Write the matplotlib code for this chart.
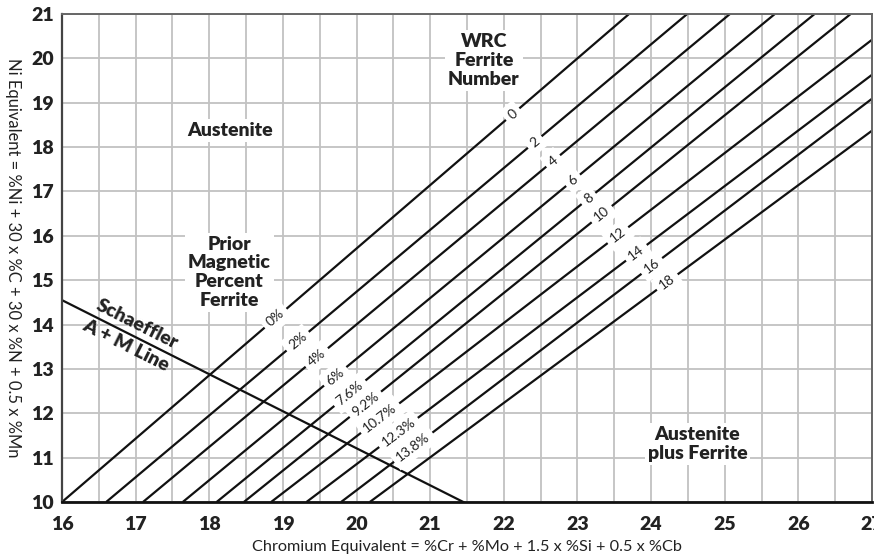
import numpy as np
import matplotlib
matplotlib.use('Agg')
import matplotlib.pyplot as plt
from matplotlib.patches import Rectangle

plt.rcParams['font.family'] = ['Lato', 'DejaVu Sans']

# iso-ferrite lines: Cr eq where each line meets Ni eq = 10, and where it leaves the chart
cr_start = [16.00, 16.60, 17.10, 17.64, 18.10, 18.47, 18.84, 19.32, 19.79, 20.18]
cr_end = [23.70, 24.49, 25.07, 25.68, 26.22, 26.71, 27.0, 27.0, 27.0, 27.0]
ni_end = [21.0, 21.0, 21.0, 21.0, 21.0, 21.0, 20.42, 19.63, 19.09, 18.37]

fn_labels = ['0', '2', '4', '6', '8', '10', '12', '14', '16', '18']
fn_label_cr = [22.12, 22.42, 22.67, 22.94, 23.15, 23.33, 23.55, 23.80, 24.01, 24.22]
pct_labels = ['0%', '2%', '4%', '6%', '7.6%', '9.2%', '10.7%', '12.3%', '13.8%']
pct_label_cr = [18.90, 19.20, 19.46, 19.71, 19.91, 20.12, 20.32, 20.57, 20.77]

# Schaeffler A + M line
sch_cr = [16.0, 21.45]
sch_ni = [14.55, 10.0]

xticks = [16, 17, 18, 19, 20, 21, 22, 23, 24, 25, 26, 27]
yticks = [10, 11, 12, 13, 14, 15, 16, 17, 18, 19, 20, 21]

fig = plt.figure(figsize=(8.88, 5.60), dpi=100)
ax = fig.add_axes([62/888, 1-502/560, (872-62)/888, (502-14)/560])
ax.set_xlim(16, 27)
ax.set_ylim(10, 21)

ax.set_xticks(xticks)
ax.set_xticks(np.arange(16.5, 27, 1.0), minor=True)
ax.set_yticks(yticks)
ax.grid(True, which='both', axis='x', color='#c2c2c2', lw=1.3, zorder=0)
ax.grid(True, which='major', axis='y', color='#c2c2c2', lw=1.3, zorder=0)
ax.set_axisbelow(True)
ax.tick_params(which='both', length=0)
ax.tick_params(axis='x', pad=10)
ax.tick_params(axis='y', pad=6)
for lab in ax.get_xticklabels() + ax.get_yticklabels():
    lab.set_fontweight('heavy')
    lab.set_fontsize(14)
    lab.set_color('#222222')

for s in ['top', 'right']:
    ax.spines[s].set_color('#666666')
    ax.spines[s].set_linewidth(1.4)
ax.spines['left'].set_color('#444444')
ax.spines['left'].set_linewidth(1.6)
ax.spines['bottom'].set_color('#111111')
ax.spines['bottom'].set_linewidth(2)

ax.set_xlabel('Chromium Equivalent = %Cr + %Mo + 1.5 x %Si + 0.5 x %Cb', fontsize=11.7, labelpad=5, color='#222222')
# y label reads top to bottom in the source
ax.set_ylabel('Ni Equivalent = %Ni + 30 x %C + 30 x %N + 0.5 x %Mn', fontsize=11.9,
              rotation=270, va='center', ha='center', color='#222222')
ax.yaxis.set_label_coords(-0.061, 0.5)

box = dict(boxstyle='square,pad=0.35', fc='white', ec='none')


def line_y(i, x):
    return 10 + (x - cr_start[i]) * (ni_end[i] - 10) / (cr_end[i] - cr_start[i])


def screen_angle(x0, y0, x1, y1):
    p0 = ax.transData.transform((x0, y0))
    p1 = ax.transData.transform((x1, y1))
    return np.degrees(np.arctan2(p1[1] - p0[1], p1[0] - p0[0]))


for i in range(len(cr_start)):
    ax.plot([cr_start[i], cr_end[i]], [10, ni_end[i]], color='#111111', lw=1.6, zorder=2,
            solid_capstyle='butt')
    ang = screen_angle(cr_start[i], 10, cr_end[i], ni_end[i])
    ax.text(fn_label_cr[i], line_y(i, fn_label_cr[i]), fn_labels[i], rotation=ang,
            rotation_mode='anchor', ha='center', va='center', fontsize=10,
            color='#222222', bbox=box, zorder=4)
    if i < len(pct_labels):
        ax.text(pct_label_cr[i], line_y(i, pct_label_cr[i]), pct_labels[i], rotation=ang,
                rotation_mode='anchor', ha='center', va='center', fontsize=10,
                color='#222222', bbox=box, zorder=4)

ax.plot(sch_cr, sch_ni, color='#111111', lw=1.6, zorder=2)
sch_ang = screen_angle(sch_cr[0], sch_ni[0], sch_cr[1], sch_ni[1])

region_box = dict(boxstyle='square,pad=0.15', fc='white', ec='none')
region_font = dict(fontsize=14, fontweight='heavy', color='#222222')
ax.text(18.28, 18.38, 'Austenite', ha='center', va='center',
        bbox=region_box, zorder=3, **region_font)
ax.text(18.27, 15.18, 'Prior\nMagnetic\nPercent\nFerrite', ha='center', va='center',
        linespacing=1.12, bbox=region_box, zorder=3, **region_font)
ax.text(21.73, 19.96, 'WRC\nFerrite\nNumber', ha='center', va='center',
        linespacing=1.15, bbox=region_box, zorder=3, **region_font)
ax.text(24.63, 11.31, 'Austenite\nplus Ferrite', ha='center', va='center',
        linespacing=1.15, bbox=region_box, zorder=3, **region_font)
ax.text(16.94, 13.77, 'Schaeffler\nA + M Line', ha='center', va='center',
        linespacing=1.5, rotation=sch_ang, rotation_mode='anchor', zorder=3,
        **region_font)

# the scanned source is cut just past the last tick label
fig.patches.append(Rectangle((874/888, 0), 1, 1, transform=fig.transFigure,
                             fc='white', ec='none', zorder=10))

fig.savefig('out.png', dpi=100)
